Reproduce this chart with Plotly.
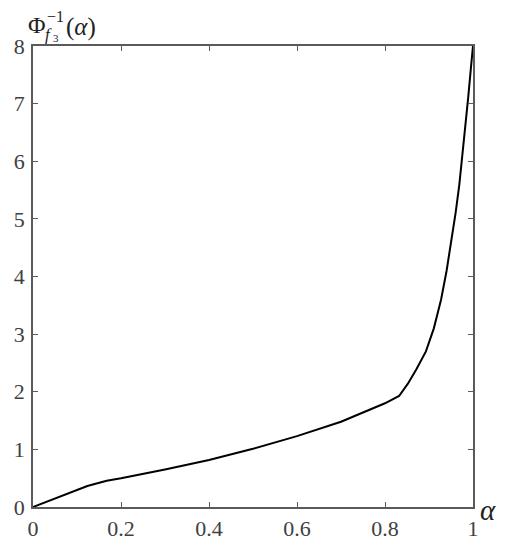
import plotly.graph_objects as go

# values (alpha, inverse CDF)
alpha = [0.0, 0.069, 0.1235, 0.1675, 0.2, 0.3, 0.4, 0.5, 0.6, 0.7, 0.8, 0.832,
         0.852, 0.872, 0.893, 0.911, 0.9275, 0.940, 0.951, 0.9604, 0.969, 0.9762,
         0.983, 0.989, 0.995, 1.0]
phi_inv = [0.0, 0.197, 0.365, 0.457, 0.50, 0.65, 0.816, 1.01, 1.23, 1.48, 1.80, 1.927,
           2.14, 2.40, 2.70, 3.10, 3.60, 4.10, 4.60, 5.10, 5.60, 6.10,
           6.60, 7.10, 7.60, 8.0]

x_ticks = [0, 0.2, 0.4, 0.6, 0.8, 1]
x_labels = ["0", "0.2", "0.4", "0.6", "0.8", "1"]
y_ticks = [0, 1, 2, 3, 4, 5, 6, 7, 8]

font_family = "Liberation Serif"
grey = "#404040"
axis_col = "#5a5a5a"
ink = "#222222"

fig = go.Figure()
fig.add_trace(go.Scatter(x=alpha, y=phi_inv, mode="lines",
                         line=dict(color="black", width=2), showlegend=False))

axis_style = dict(showline=True, linecolor=axis_col, linewidth=1.5, mirror="ticks",
                  ticks="inside", ticklen=5, tickcolor=axis_col, showgrid=False,
                  zeroline=False, automargin=False,
                  tickfont=dict(family=font_family, size=22, color=grey))
fig.update_xaxes(range=[0, 1], tickvals=x_ticks, ticktext=x_labels,
                 ticklabelstandoff=1, **axis_style)
fig.update_yaxes(range=[0, 8], tickvals=y_ticks, ticklabelstandoff=2, **axis_style)

# y label: Phi with stacked super/subscript, placed piece by piece
def label(text, x, y, size):
    fig.add_annotation(text=text, xref="paper", yref="paper", x=x, y=y,
                       xanchor="center", yanchor="middle", showarrow=False,
                       font=dict(family=font_family, size=size, color=ink))

label("Φ", 0.009, 1.045, 24)
label("−1", 0.052, 1.064, 16)
label("<i>f</i>", 0.035, 1.026, 17)
label("3", 0.052, 1.017, 11)
label("(<i>α</i>)", 0.11, 1.041, 25)
label("<i>α</i>", 1.033, -0.006, 29)

# page body adds an 8px offset, so the figure is kept smaller than the window
fig.update_layout(width=489, height=534, plot_bgcolor="white", paper_bgcolor="white",
                  margin=dict(l=25, r=24, t=38, b=35))

fig.write_html("out.html")
